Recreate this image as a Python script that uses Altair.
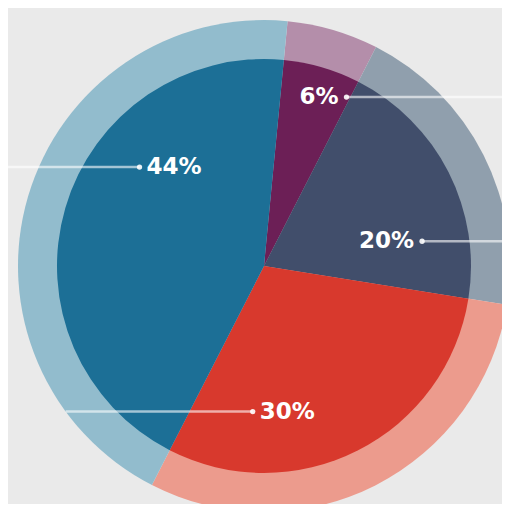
import math
import altair as alt
import pandas as pd

# ---- data ----
labels = ["6%", "20%", "30%", "44%"]
values = [6, 20, 30, 44]
inner_colors = ["#6c1f56", "#414e6b", "#d8392d", "#1c6f96"]
ring_colors = ["#b48eaa", "#909fad", "#ec9b8d", "#92bccd"]

# ---- layout ----
W, H = 494, 496
CX, CY = 256, 258
R_IN, R_OUT = 207, 246
START_DEG = 5.5
label_frac = [0.95, 0.75, 0.79, 0.64]   # where along the slice the label dot sits
label_r = [188, 160, 146, 159]          # radius of the label dot
label_side = ["right", "right", "left", "left"]
line_to = ["page", "page", "ring", "page"]

total = sum(values)
rows = []
cum = 0.0
for i, (lab, v) in enumerate(zip(labels, values)):
    a0 = START_DEG + cum / total * 360.0
    span = v / total * 360.0
    cum += v
    ang = math.radians(a0 + label_frac[i] * span)
    px = CX + label_r[i] * math.sin(ang)
    py = CY - label_r[i] * math.cos(ang)
    if label_side[i] == "right":
        x_end = W + 10
        tx = px - 8
    else:
        if line_to[i] == "ring":
            x_end = CX - math.sqrt(max(R_OUT ** 2 - (py - CY) ** 2, 0))
        else:
            x_end = -10
        tx = px + 7
    rows.append(dict(idx=i, label=lab, value=v, inner=inner_colors[i], ring=ring_colors[i],
                     px=px, py=py, x_end=x_end, tx=tx, side=label_side[i]))

df = pd.DataFrame(rows)
base = alt.Chart(df)

theta = alt.Theta("value:Q", stack=True,
                  scale=alt.Scale(range=[math.radians(START_DEG), math.radians(START_DEG) + 2 * math.pi]))

ring = base.mark_arc(radius=R_OUT).encode(
    theta=theta,
    color=alt.Color("ring:N", scale=None),
    order=alt.Order("idx:Q"),
    x=alt.value(CX), y=alt.value(CY),
)

inner = base.mark_arc(radius=R_IN).encode(
    theta=theta,
    color=alt.Color("inner:N", scale=None),
    order=alt.Order("idx:Q"),
    x=alt.value(CX), y=alt.value(CY),
)

lines = base.mark_rule(color="white", opacity=0.6, strokeWidth=2.5).encode(
    x=alt.X("px:Q", scale=None, axis=None),
    x2="x_end:Q",
    y=alt.Y("py:Q", scale=None, axis=None),
)

dots = base.mark_circle(color="white", opacity=0.9, size=28).encode(
    x=alt.X("px:Q", scale=None, axis=None),
    y=alt.Y("py:Q", scale=None, axis=None),
)

txt_kw = dict(font="DejaVu Sans", fontWeight="bold", fontSize=23, color="white", baseline="middle")
text_left = base.transform_filter(alt.datum.side == "left").mark_text(align="left", **txt_kw).encode(
    x=alt.X("tx:Q", scale=None, axis=None),
    y=alt.Y("py:Q", scale=None, axis=None),
    text="label:N",
)
text_right = base.transform_filter(alt.datum.side == "right").mark_text(align="right", **txt_kw).encode(
    x=alt.X("tx:Q", scale=None, axis=None),
    y=alt.Y("py:Q", scale=None, axis=None),
    text="label:N",
)

chart = alt.layer(ring, inner, lines, dots, text_left, text_right).properties(
    width=W, height=H, padding=0, autosize=alt.AutoSizeParams(type="none"),
    background="#eaeaea",
).configure_view(strokeWidth=0)

chart.save("out.html", embed_options={"renderer": "svg", "actions": False})
